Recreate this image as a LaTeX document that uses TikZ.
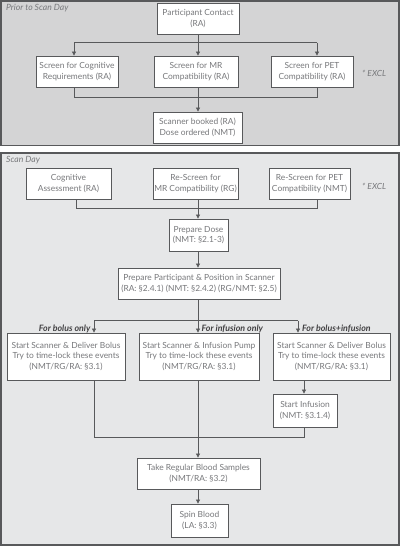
\documentclass[tikz,border=0pt]{standalone}
\usepackage{fontspec}
\setmainfont{Lato}
\usetikzlibrary{arrows.meta}
\definecolor{txt}{HTML}{77787B}
\definecolor{dtxt}{HTML}{414042}
\definecolor{ln}{HTML}{58595B}
\definecolor{pA}{HTML}{D4D4D5}
\definecolor{pB}{HTML}{E6E7E8}
\begin{document}
\begin{tikzpicture}[x=1pt,y=-1pt,
  box/.style={draw=ln,line width=0.8pt,fill=white,text=txt,align=center,font=\fontsize{8.4}{10.5}\selectfont,inner sep=0pt},
  conn/.style={draw=ln,line width=0.7pt},
  arr/.style={conn,-{Triangle[length=4pt,width=4pt]}},
  panel/.style={draw=ln,line width=1.2pt},
  ptitle/.style={anchor=west,text=txt,font=\fontsize{8.6}{9}\selectfont\itshape,inner sep=0pt},
  excl/.style={anchor=west,text=txt,font=\fontsize{8.4}{9}\selectfont\itshape,inner sep=0pt},
  branch/.style={text=dtxt,font=\fontsize{8.8}{9}\selectfont\bfseries\itshape,inner sep=0pt}]
\useasboundingbox (0,0) rectangle (400,546);
% panels
\draw[panel,fill=pA] (1,1) rectangle (399,145.5);
\draw[panel,fill=pB] (1,153) rectangle (399,545);
\node[ptitle] (t1) at (6,8.5) {Prior to Scan Day};
\node[ptitle] (t2) at (6,160.5) {Scan Day};
% top panel nodes
\node[box,minimum width=82pt,minimum height=31pt] (pc) at (198,18.5) {Participant Contact\\(RA)};
\node[box,minimum width=82pt,minimum height=31pt] (sc) at (77,71.5) {Screen for Cognitive\\Requirements (RA)};
\node[box,minimum width=84pt,minimum height=31pt] (sm) at (196,71.5) {Screen for MR\\Compatibility (RA)};
\node[box,minimum width=82pt,minimum height=31pt] (sp) at (312,71.5) {Screen for PET\\Compatibility (RA)};
\node[excl] (e1) at (362,73.5) {* EXCL};
\node[box,minimum width=89pt,minimum height=31pt] (sb) at (197.5,127.5) {Scanner booked (RA)\\Dose ordered (NMT)};
% top connectors
\coordinate (a1) at (74,42.7);
\coordinate (a2) at (198,42.7);
\coordinate (a3) at (317,42.7);
\draw[conn] (pc.south) -- (a2);
\draw[conn] (a1) -- (a3);
\draw[arr] (a1) -- (a1 |- sc.north);
\draw[arr] (a2) -- (a2 |- sm.north);
\draw[arr] (a3) -- (a3 |- sp.north);
\coordinate (b1) at (74,97.7);
\coordinate (b2) at (198,97.7);
\coordinate (b3) at (317,97.7);
\draw[conn] (b1 |- sc.south) -- (b1) -- (b3) -- (b3 |- sp.south);
\draw[conn] (b2 |- sm.south) -- (b2);
\draw[arr] (b2) -- (b2 |- sb.north);
% scan day nodes
\node[box,minimum width=85pt,minimum height=31pt] (ca) at (68.5,183.5) {Cognitive\\Assessment (RA)};
\node[box,minimum width=85pt,minimum height=31pt] (rm) at (195.5,183.5) {Re-Screen for\\MR Compatibility (RG)};
\node[box,minimum width=81pt,minimum height=31pt] (rp) at (309.5,183.5) {Re-Screen for PET\\Compatibility (NMT)};
\node[excl] (e2) at (362,186) {* EXCL};
\coordinate (c1) at (76,208);
\coordinate (c2) at (198,208);
\coordinate (c3) at (317,208);
\draw[conn] (c1 |- ca.south) -- (c1) -- (c3) -- (c3 |- rp.south);
\draw[conn] (c2 |- rm.south) -- (c2);
\node[box,minimum width=59pt,minimum height=32pt] (pd) at (198.5,235) {Prepare Dose\\(NMT: \S2.1-3)};
\draw[arr] (c2) -- (c2 |- pd.north);
\node[box,minimum width=162pt,minimum height=31pt] (pp) at (199,283.5) {Prepare Participant \& Position in Scanner\\(RA: \S2.4.1) (NMT: \S2.4.2) (RG/NMT: \S2.5)};
\draw[arr] (pd.south -| c2) -- (c2 |- pp.north);
\coordinate (d1) at (94,320.7);
\coordinate (d2) at (198,320.7);
\coordinate (d3) at (298,320.7);
\draw[conn] (pp.south -| d2) -- (d2);
\draw[conn] (d1) -- (d3);
\node[box,minimum width=118pt,minimum height=47pt] (bo) at (66,356.5) {Start Scanner \& Deliver Bolus\\Try to time-lock these events\\(NMT/RG/RA: \S3.1)};
\node[box,minimum width=120pt,minimum height=47pt] (io) at (199,356.5) {Start Scanner \& Infusion Pump\\Try to time-lock these events\\(NMT/RG/RA: \S3.1)};
\node[box,minimum width=117pt,minimum height=47pt] (bi) at (331.5,356.5) {Start Scanner \& Deliver Bolus\\Try to time-lock these events\\(NMT/RG/RA: \S3.1)};
\draw[arr] (d1) -- (d1 |- bo.north);
\draw[arr] (d2) -- (d2 |- io.north);
\draw[arr] (d3) -- (d3 |- bi.north);
\node[branch,anchor=east] (l1) at (90.5,329) {For bolus only};
\node[branch,anchor=west] (l2) at (201.5,329) {For infusion only};
\node[branch,anchor=west] (l3) at (302,329) {For bolus+infusion};
\node[box,minimum width=64pt,minimum height=33pt] (si) at (305,410.5) {Start Infusion\\(NMT: \S3.1.4)};
\coordinate (f3) at (304,380);
\draw[arr] (bi.south -| f3) -- (f3 |- si.north);
\coordinate (g1) at (94,437);
\coordinate (g2) at (198,437);
\coordinate (g3) at (304,437);
\draw[conn] (bo.south -| g1) -- (g1) -- (g3) -- (si.south -| g3);
\node[box,minimum width=123pt,minimum height=31pt] (tr) at (198.5,473.5) {Take Regular Blood Samples\\(NMT/RA: \S3.2)};
\draw[arr] (io.south -| g2) -- (g2 |- tr.north);
\node[box,minimum width=57pt,minimum height=33pt] (sbl) at (199.5,520.5) {Spin Blood\\(LA: \S3.3)};
\draw[arr] (tr.south -| g2) -- (g2 |- sbl.north);
\end{tikzpicture}
\end{document}
